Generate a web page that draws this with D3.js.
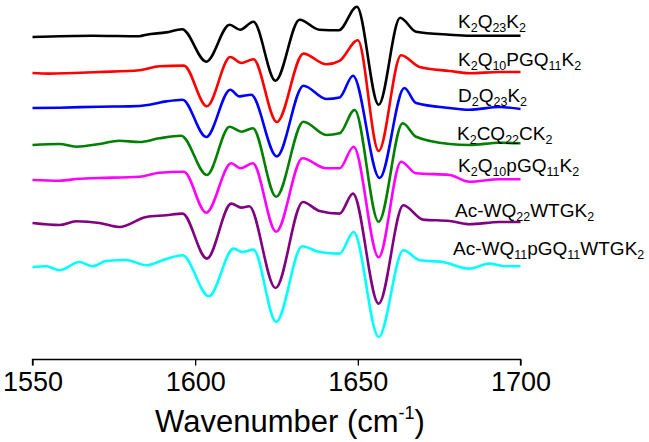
<!DOCTYPE html>
<html>
<head>
<meta charset="utf-8">
<script src="https://cdn.jsdelivr.net/npm/d3@7"></script>
<style>
  html, body { margin: 0; padding: 0; background: #fff; }
  svg { display: block; }
  text { font-family: "Liberation Sans", Arial, sans-serif; }
</style>
</head>
<body>
<svg id="chart" width="649" height="442"></svg>
<script>
// ---- Data (wavenumber cm-1, relative absorbance) ----
const k2q23k2 = [[1550,0],[1568.4,0.013],[1582.9,0.008],[1585,0.023],[1591.1,0.046],[1596.0,0.078],[1603.4,-0.247],[1610.6,0.123],[1613.8,0.073],[1617.9,0.153],[1624.7,-0.437],[1632.1,0.173],[1638.2,0.073],[1644.2,0.068],[1649.7,0.303],[1656.4,-0.677],[1663.0,0.193],[1667.9,0.053],[1678.2,0.023],[1684.3,0.013],[1693.5,0.013],[1700,0.013]];
const k2q10pgq11k2 = [[1550,0],[1555,-0.006],[1570.6,0.01],[1582.9,0.027],[1589,0.067],[1596.5,0.074],[1603.6,-0.333],[1610.8,0.16],[1614.2,0.10],[1617.9,0.137],[1625.1,-0.49],[1633.3,0.194],[1640.3,0.087],[1644.4,0.122],[1650.0,0.327],[1656.4,-0.78],[1663.3,0.177],[1669.0,0.06],[1678.2,0.02],[1684.3,-0.003],[1693.5,0.01],[1700,0.01]];
const d2q23k2 = [[1550,0],[1558.3,0.003],[1570.6,0.013],[1579.8,0.016],[1586,0.033],[1591.1,0.066],[1596.1,0.083],[1603.4,-0.29],[1610.8,0.183],[1613.6,0.116],[1617.2,0.133],[1625.1,-0.484],[1633.3,0.223],[1640.3,0.09],[1644.4,0.105],[1648.5,0.323],[1656.7,-0.70],[1664.3,0.20],[1667.9,0.05],[1678.2,0],[1684.3,-0.017],[1693.5,0.01],[1700,-0.01]];
const k2cq22ck2 = [[1550,0],[1558.3,0.01],[1563.4,-0.017],[1570.6,0.01],[1576.7,0.043],[1582.9,0.03],[1589,0.067],[1595.7,0.093],[1603.6,-0.30],[1610.6,0.183],[1614.2,0.133],[1617.7,0.167],[1624.9,-0.517],[1633.3,0.233],[1640.3,0.10],[1644.4,0.117],[1649.0,0.35],[1656.4,-0.767],[1663.8,0.217],[1667.9,0.083],[1678.2,0.01],[1684.3,0],[1693.5,0.023],[1700,0.017]];
const k2q10pgq11k2b = [[1550,0],[1558.3,-0.007],[1564.4,0.013],[1570.6,0.02],[1582.9,0.033],[1589,0.073],[1596.5,0.083],[1603.4,-0.327],[1611.1,0.167],[1613.9,0.117],[1617.7,0.167],[1624.9,-0.517],[1633.0,0.217],[1640.3,0.117],[1644.4,0.117],[1648.7,0.333],[1656.4,-0.773],[1663.3,0.183],[1667.9,0.067],[1678.2,0.05],[1684.3,-0.017],[1693.5,0.007],[1700,0.007]];
const acwq22wtgk2 = [[1550,0],[1558.3,-0.02],[1563.4,0.017],[1570.6,0.0],[1576.7,-0.04],[1585,0.06],[1591.1,0.077],[1596.1,0.094],[1603.6,-0.356],[1611.1,0.194],[1614.2,0.154],[1616.6,0.167],[1624.7,-0.65],[1633.1,0.21],[1638.2,0.12],[1644.4,0.094],[1648.5,0.294],[1656.4,-0.806],[1664.0,0.177],[1670.0,0.034],[1678.2,0.02],[1684.3,-0.013],[1693.5,0.01],[1700,0.01]];
const acwq11pgq11wtgk2 = [[1550,0],[1554.2,0.007],[1558.3,-0.033],[1564.4,0.05],[1568.5,0.007],[1572.6,0.06],[1578.8,0.07],[1585,0.017],[1591.1,0.08],[1596.1,0.117],[1604.2,-0.293],[1611.8,0.184],[1614.6,0.15],[1617.9,0.174],[1624.9,-0.55],[1632.9,0.207],[1638.2,0.15],[1644.4,0.134],[1648.7,0.35],[1656.4,-0.70],[1664.0,0.167],[1669.0,0.067],[1676.1,0.05],[1684.3,-0.016],[1690.4,0.034],[1695.5,0.007],[1700,0.007]];

const seriesData = [k2q23k2, k2q10pgq11k2, d2q23k2, k2cq22ck2, k2q10pgq11k2b, acwq22wtgk2, acwq11pgq11wtgk2];
// labels: braces mark subscripts
const seriesLabels = ["K{2}Q{23}K{2}", "K{2}Q{10}PGQ{11}K{2}", "D{2}Q{23}K{2}", "K{2}CQ{22}CK{2}", "K{2}Q{10}pGQ{11}K{2}", "Ac-WQ{22}WTGK{2}", "Ac-WQ{11}pGQ{11}WTGK{2}"];
const seriesColors = ["#000000", "#ff0000", "#0000ff", "#008000", "#ff00ff", "#800080", "#00ffff"];
const seriesOffsets = [3.03, 2.67, 2.32, 1.95, 1.60, 1.17, 0.73];
const labelOffsets = [3.12, 2.745, 2.38, 2.005, 1.68, 1.235, 0.85];
const xTicks = [1550, 1600, 1650, 1700];

// ---- Chart ----
const svg = d3.select("#chart");
const x = d3.scaleLinear().domain([1550, 1700]).range([32.5, 520.5]);
const y = d3.scaleLinear().domain([0, 3]).range([340, 40]);
const axisY = 359.5;

const line = d3.line()
  .x(d => x(d[0]))
  .curve(d3.curveMonotoneX);

seriesData.forEach((s, i) => {
  svg.append("path")
    .datum(s)
    .attr("fill", "none")
    .attr("stroke", seriesColors[i])
    .attr("stroke-width", 2.6)
    .attr("stroke-linejoin", "round")
    .attr("d", line.y(d => y(d[1] + seriesOffsets[i])));
});

// labels
const labelX = [458, 458, 458, 457, 458, 455, 453];
seriesLabels.forEach((lab, i) => {
  const t = svg.append("text")
    .attr("x", labelX[i])
    .attr("y", y(labelOffsets[i]))
    .attr("font-size", 19)
    .attr("fill", "#000");
  const parts = lab.split(/(\{[^}]*\})/).filter(p => p.length);
  let sub = false;
  parts.forEach(p => {
    if (p.startsWith("{")) {
      t.append("tspan").attr("font-size", 12.5).attr("dy", 4).text(p.slice(1, -1));
      sub = true;
    } else {
      const ts = t.append("tspan").text(p);
      if (sub) ts.attr("dy", -4);
      sub = false;
    }
  });
});

// x axis
const axis = d3.axisBottom(x).tickValues(xTicks).tickSize(6).tickPadding(4).tickFormat(d3.format("d"));
const gx = svg.append("g").attr("transform", `translate(0,${axisY})`).call(axis);
gx.select(".domain").attr("stroke", "#000").attr("stroke-width", 1.3).attr("d", `M${x(1550)},6V0H${x(1700)}V6`);
gx.selectAll(".tick line").attr("stroke", "#000").attr("stroke-width", 1.3);
gx.selectAll(".tick text")
  .attr("font-family", "'Liberation Sans', Arial, sans-serif")
  .attr("font-size", 27)
  .attr("fill", "#000")
  .attr("dy", null)
  .attr("y", 31);

// axis title
const title = svg.append("text")
  .attr("x", 290)
  .attr("y", 432)
  .attr("text-anchor", "middle")
  .attr("font-size", 31)
  .attr("fill", "#000");
title.append("tspan").text("Wavenumber (cm");
title.append("tspan").attr("font-size", 18).attr("dy", -13).text("-1");
title.append("tspan").attr("dy", 13).text(")");
</script>
</body>
</html>
